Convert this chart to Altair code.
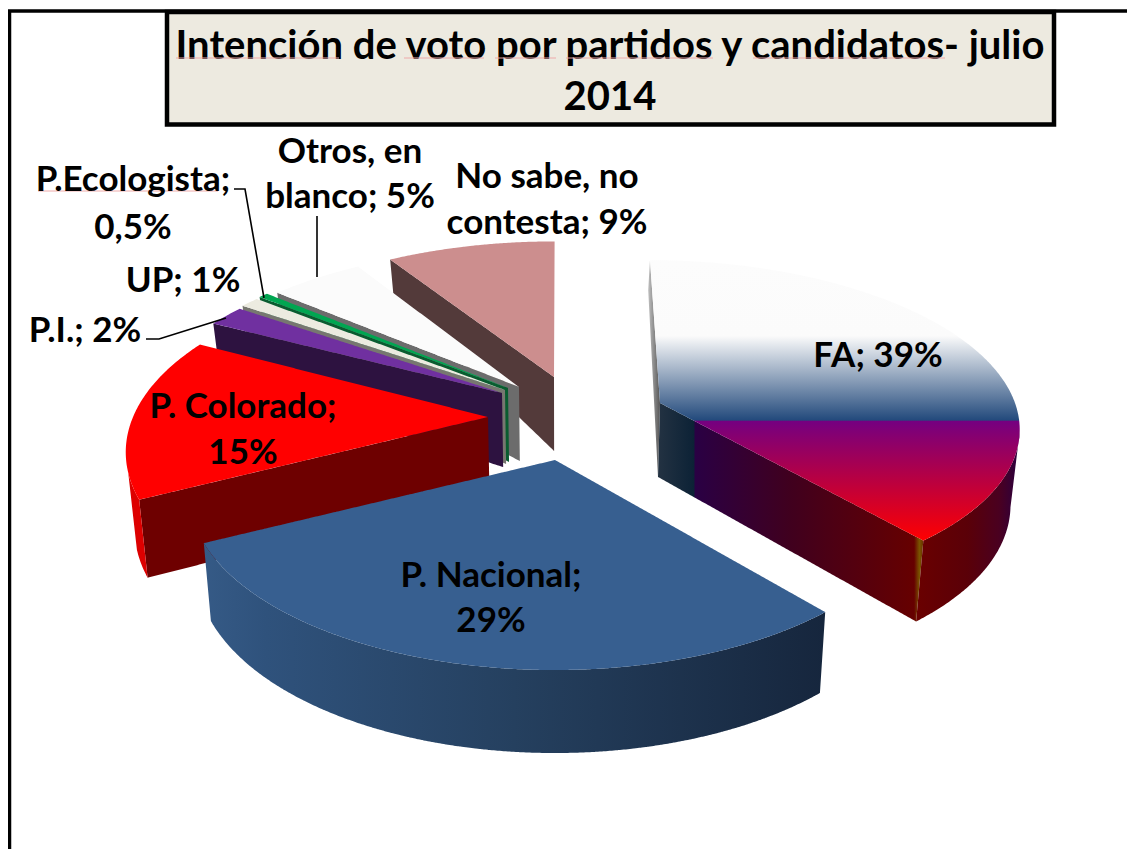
import math
import altair as alt
import pandas as pd

# ---- chart values
parties = ["FA", "P. Nacional", "P. Colorado", "P.I.", "UP", "P.Ecologista", "Otros, en blanco", "No sabe, no contesta"]
shares = [39, 29, 15, 2, 1, 0.5, 5, 9]

title_lines = ["Intención de voto por partidos y candidatos- julio", "2014"]
label_texts = ["FA; 39%", "P. Nacional;", "29%", "P. Colorado;", "15%", "P.I.; 2%", "UP; 1%",
               "P.Ecologista;", "0,5%", "Otros, en", "blanco; 5%", "No sabe, no", "contesta; 9%"]
label_x = [878, 491, 491, 243, 243, 85, 183, 133, 133, 350, 350, 547, 547]
label_y = [356, 576, 621, 407, 453, 331, 281, 180, 228, 152, 197, 177, 223]

# ---- exploded-slice layout (screen position of each tip, ellipse radii, perspective)
apex_x = [660, 555, 488, 502, 505, 508, 519, 554]
apex_y = [403, 460, 417, 393, 390, 388, 387, 377]
radius_x = [355, 360, 355, 355, 355, 355, 355, 355]
radius_y = [162, 171.6, 171, 164, 164, 164, 164, 160]
persp = [0.134, 0.183, 0.18, 0.18, 0.18, 0.18, 0.18, 0.18]
VANISH_X = 560

total = sum(shares)
starts, ends = [], []
acc = 0.0
for v in shares:
    starts.append(acc / total * 360)
    acc += v
    ends.append(acc / total * 360)


def top_pt(i, t, r=1.0):
    a = math.radians(t)
    sin_t, cos_t = math.sin(a) * r, math.cos(a) * r
    s = 1 / (1 + persp[i] * cos_t)
    x = apex_x[i] + radius_x[i] * sin_t * s + (VANISH_X - apex_x[i]) * 0.1 * cos_t
    y = apex_y[i] - radius_y[i] * cos_t * s
    return x, y, cos_t


def low_pt(i, t, r=1.0):
    x, y, depth = top_pt(i, t, r)
    h = 74 - 44 * depth if depth > 0 else 74 - 9 * depth
    return x - (x - VANISH_X) * 0.02, y + h


def arc(i, t0, t1, fn):
    n = max(2, int(abs(t1 - t0)) + 2)
    return [fn(i, t0 + (t1 - t0) * k / (n - 1))[:2] for k in range(n)]


def wedge(i):
    return [(apex_x[i], apex_y[i])] + arc(i, starts[i], ends[i], top_pt)


def cut_face(i, t):
    return [(apex_x[i], apex_y[i]), top_pt(i, t)[:2], low_pt(i, t)[:2], low_pt(i, t, 0.0)[:2]]


def outer_wall(i, t0, t1):
    return arc(i, t0, t1, top_pt) + arc(i, t1, t0, low_pt)


def spans(poly, step=2.0):
    edges = list(zip(poly, poly[1:] + poly[:1]))
    lo, hi = min(p[0] for p in poly), max(p[0] for p in poly)
    xs = {p[0] for p in poly}
    x = lo
    while x < hi:
        xs.add(x)
        x += step
    rows = []
    for x in sorted(xs):
        ys = []
        for (x1, y1), (x2, y2) in edges:
            if min(x1, x2) <= x <= max(x1, x2):
                if x1 == x2:
                    ys += [y1, y2]
                else:
                    ys.append(y1 + (y2 - y1) * (x - x1) / (x2 - x1))
        if ys:
            rows.append({"x": round(x, 2), "y": round(min(ys), 2), "y2": round(max(ys), 2)})
    return pd.DataFrame(rows)


xs = alt.Scale(domain=[8, 1127], range=[0, 1119], nice=False, zero=False)
ys = alt.Scale(domain=[849, 8], range=[841, 0], nice=False, zero=False)
X = alt.X("x:Q", scale=xs, axis=None)
Y = alt.Y("y:Q", scale=ys, axis=None)


def grad(stops, horizontal=True):
    return alt.Gradient(
        gradient="linear",
        stops=[alt.GradientStop(color=c, offset=o) for o, c in stops],
        x1=0, y1=0, x2=1 if horizontal else 0, y2=0 if horizontal else 1,
    )


def piece(poly, fill):
    return alt.Chart(spans(poly)).mark_area(fill=fill, orient="vertical", interpolate="linear").encode(x=X, y=Y, y2="y2:Q")


layers = []

# frame
frame = pd.DataFrame({"x": [9.5, 9.5, 1127], "y": [849, 11, 11], "o": [0, 1, 2]})
layers.append(alt.Chart(frame).mark_line(color="black", strokeWidth=3.5).encode(x=X, y=Y, order="o:Q"))

# title box
box = pd.DataFrame({"x": [167], "x2": [1054], "y": [12], "y2": [124.5]})
layers.append(alt.Chart(box).mark_rect(fill="#edeae0", stroke="black", strokeWidth=4.5).encode(
    x=X, x2="x2:Q", y=Y, y2="y2:Q"))
title_df = pd.DataFrame({"t": title_lines, "x": [610, 610], "y": [47, 98]})
layers.append(alt.Chart(title_df).mark_text(font="Lato", fontWeight="bold", fontSize=40, color="black",
                                            align="center", baseline="middle").encode(x=X, y=Y, text="t:N"))

# spell-check underlines
sq = pd.DataFrame({
    "x": [176, 404, 495, 566, 753, 38],
    "x2": [339, 484, 556, 713, 945, 218],
    "y": [58, 58, 58, 58, 58, 191],
})
layers.append(alt.Chart(sq).mark_rule(color="#eeaaaa", strokeWidth=1).encode(x=X, x2="x2:Q", y=Y))

# No sabe
NS, OT, EC, UP, PI, CO, PN, FA = 7, 6, 5, 4, 3, 2, 1, 0
layers.append(piece(cut_face(NS, starts[NS]), "#533a3a"))
layers.append(piece(wedge(NS), "#cc8e8e"))
# Otros
layers.append(piece(cut_face(OT, starts[OT]), "#6c6c6c"))
layers.append(piece(wedge(OT), "#fbfbfb"))
# Ecologista
layers.append(piece(cut_face(EC, starts[EC]), "#0a5c30"))
layers.append(piece(wedge(EC), "#00a651"))
# UP
layers.append(piece(cut_face(UP, starts[UP]), "#777770"))
layers.append(piece(wedge(UP), "#ecebe0"))
# P.I.
layers.append(piece(cut_face(PI, starts[PI]), "#2d1240"))
layers.append(piece(wedge(PI), "#7030a0"))
# Colorado
layers.append(piece(cut_face(CO, starts[CO]), "#6e0000"))
layers.append(piece(outer_wall(CO, starts[CO], 252), "#dd0000"))
layers.append(piece(wedge(CO), "#ff0000"))
# Nacional
layers.append(piece(outer_wall(PN, starts[PN], ends[PN]),
                    grad([(0, "#355a86"), (0.1, "#2f527c"), (0.5, "#25405f"), (1, "#16263d")])))
layers.append(piece(wedge(PN), "#375f90"))
# FA
layers.append(piece([top_pt(FA, 0)[:2], (apex_x[FA], apex_y[FA]), low_pt(FA, 0, 0.0)[:2], low_pt(FA, 0)[:2]],
                    grad([(0, "#c0c0c0"), (1, "#555555")])))
layers.append(piece(cut_face(FA, ends[FA]),
                    grad([(0, "#233242"), (0.135, "#0c2236"), (0.14, "#2a0044"), (0.5, "#40001e"),
                          (0.965, "#660000"), (0.985, "#7a5500"), (1, "#6a3000")])))
layers.append(piece(outer_wall(FA, ends[FA], 100),
                    grad([(0, "#6a0000"), (0.5, "#5a0008"), (0.8, "#4a0020"), (1, "#2a0040")])))
layers.append(piece(wedge(FA),
                    grad([(0, "#fcfcfc"), (0.27, "#fbfbfb"), (0.57, "#234a7c"), (0.575, "#750080"), (1, "#ff0000")],
                         horizontal=False)))

# leader lines
leader = pd.DataFrame({
    "x": [146, 159, 226, 234, 245, 264, 317, 317],
    "y": [339, 339, 318, 189, 189, 298, 216, 277],
    "g": ["a", "a", "a", "b", "b", "b", "c", "c"],
    "o": [0, 1, 2, 0, 1, 2, 0, 1],
})
layers.append(alt.Chart(leader).mark_line(color="black", strokeWidth=1.6).encode(x=X, y=Y, detail="g:N", order="o:Q"))

# data labels
labels = pd.DataFrame({"t": label_texts, "x": label_x, "y": label_y})
layers.append(alt.Chart(labels).mark_text(font="Lato", fontWeight="bold", fontSize=35, color="black",
                                          align="center", baseline="middle").encode(x=X, y=Y, text="t:N"))

chart = alt.layer(*layers).properties(
    width=1119, height=841, padding=0, autosize=alt.AutoSizeParams(type="none"), background="white"
).configure_view(stroke=None)

chart.save("out.html", embed_options={"renderer": "svg", "actions": False})
